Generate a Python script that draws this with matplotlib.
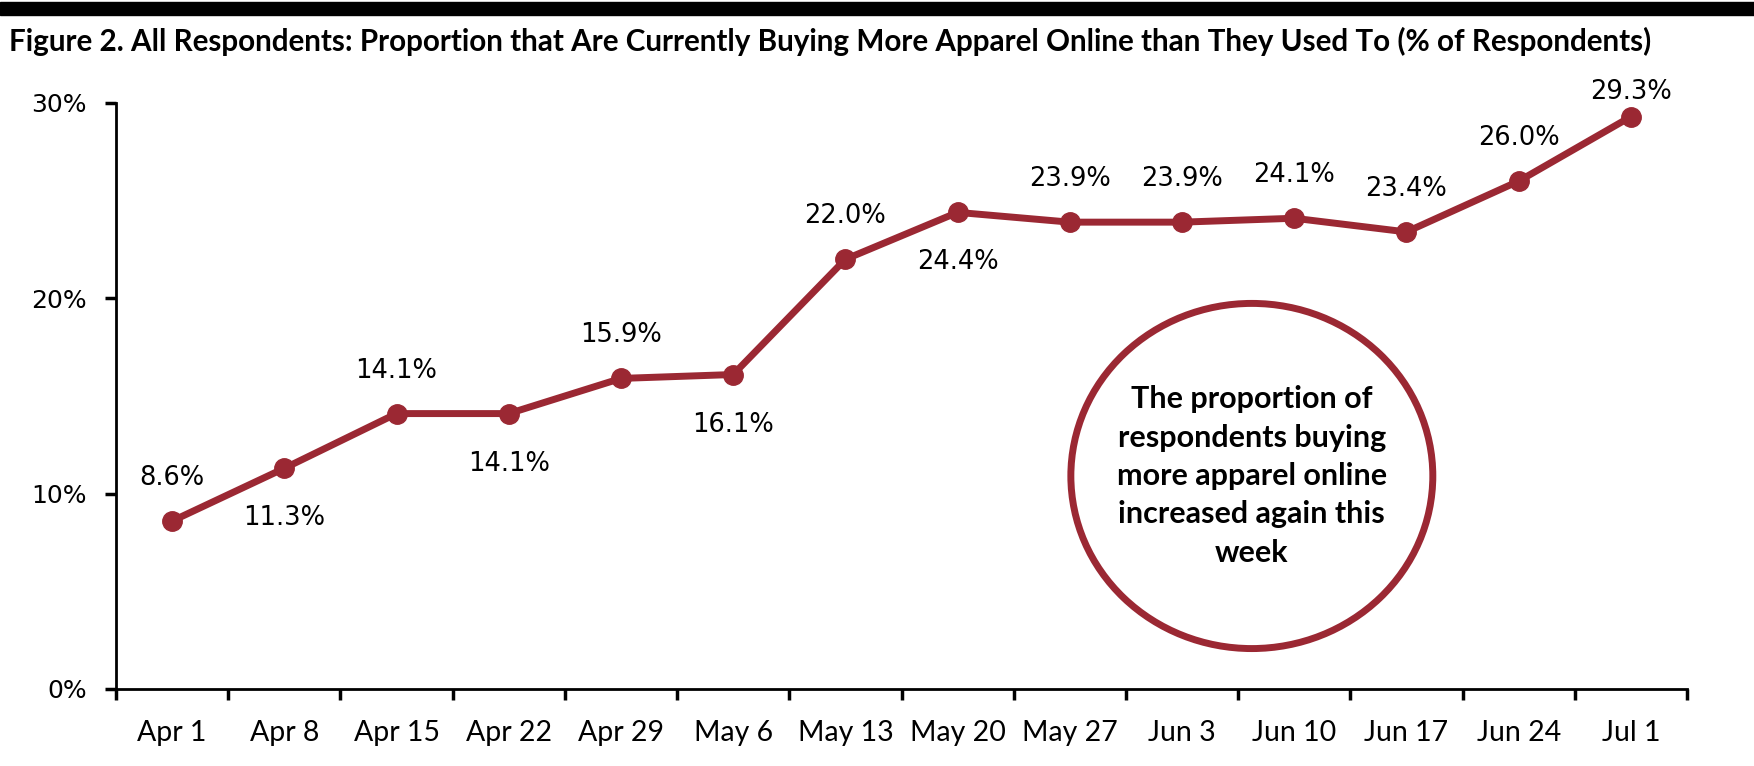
import matplotlib
matplotlib.use("Agg")
import matplotlib.pyplot as plt
from matplotlib.patches import Ellipse, Rectangle
from matplotlib.ticker import FixedLocator, PercentFormatter

weeks = ["Apr 1", "Apr 8", "Apr 15", "Apr 22", "Apr 29", "May 6", "May 13",
         "May 20", "May 27", "Jun 3", "Jun 10", "Jun 17", "Jun 24", "Jul 1"]
share = [8.6, 11.3, 14.1, 14.1, 15.9, 16.1, 22.0, 24.4, 23.9, 23.9, 24.1, 23.4, 26.0, 29.3]
label_side = ["above", "below", "above", "below", "above", "below", "above",
              "below", "above", "above", "above", "above", "above", "top"]
y_ticks = [0, 10, 20, 30]

title = ("Figure 2. All Respondents: Proportion that Are Currently Buying More "
         "Apparel Online than They Used To (% of Respondents)")
note = ("The proportion of\nrespondents buying\nmore apparel online\n"
        "increased again this\nweek")

red = "#9B2833"
W, H = 1754, 766
offsets = {"above": 31, "below": -36, "top": 18}

fig = plt.figure(figsize=(W / 100, H / 100), dpi=100)
ax = fig.add_axes([116 / W, 1 - 689 / H, 1571 / W, 586 / H])

x = list(range(len(weeks)))
ax.plot(x, share, color=red, lw=5, marker="o", ms=14, solid_capstyle="round",
        zorder=3, clip_on=False)

for xi, v, side in zip(x, share, label_side):
    ax.annotate(f"{v:.1f}%", (xi, v), xytext=(0, offsets[side]), textcoords="offset points",
                ha="center", va="center", fontsize=18.5, family="DejaVu Sans")

ax.set_xlim(-0.5, len(weeks) - 0.5)
ax.set_ylim(0, 30)
ax.yaxis.set_major_locator(FixedLocator(y_ticks))
ax.yaxis.set_major_formatter(PercentFormatter(decimals=0))

# category boundaries get the tick marks, labels sit in the middle
ax.xaxis.set_major_locator(FixedLocator([i - 0.5 for i in range(len(weeks) + 1)]))
ax.xaxis.set_minor_locator(FixedLocator(x))
ax.set_xticklabels([])
ax.set_xticklabels(weeks, minor=True)
ax.tick_params(axis="x", which="major", length=8, width=2.5, direction="out")
ax.tick_params(axis="x", which="minor", length=0, pad=22, labelsize=20.5)
ax.tick_params(axis="y", length=8, width=2.5, pad=13, labelsize=18)
for lab in ax.get_xticklabels(minor=True):
    lab.set_family("Lato")
for lab in ax.get_yticklabels():
    lab.set_family("DejaVu Sans")

for s in ["top", "right"]:
    ax.spines[s].set_visible(False)
for s in ["left", "bottom"]:
    ax.spines[s].set_linewidth(2)

ax.add_patch(Ellipse((0.723, 0.3635), 0.2304, 0.589, transform=ax.transAxes,
                     fill=False, ec=red, lw=5, zorder=2))
ax.text(0.723, 0.3635, note, transform=ax.transAxes, ha="center", va="center",
        fontsize=22, fontweight="bold", family="Lato", linespacing=1.45)

fig.patches.append(Rectangle((0, 1 - 15 / H), 1, 13 / H, transform=fig.transFigure,
                             color="black", zorder=5))
fig.text(9 / W, 1 - 41 / H, title, ha="left", va="center", fontsize=21.3,
         fontweight="bold", family="Lato")

fig.savefig("out.png", dpi=100)
